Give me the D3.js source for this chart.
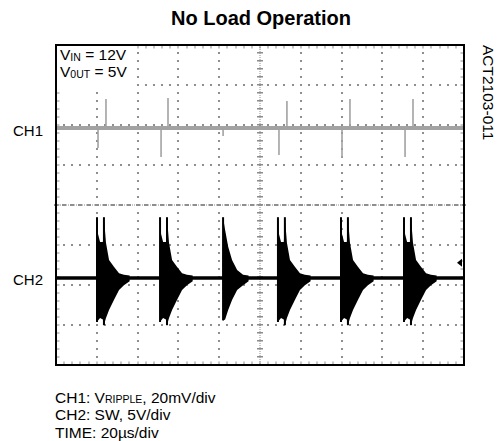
<!DOCTYPE html>
<html><head><meta charset="utf-8">
<script src="https://cdn.jsdelivr.net/npm/d3@7"></script>
<style>body{margin:0;background:#fff}svg{display:block}text{font-family:"Liberation Sans",Arial,Helvetica,sans-serif;fill:#000}</style>
</head><body><svg id="c" width="503" height="441"></svg>
<script>
// ---- data ----
const timeDomain = [0, 200];        // µs, 10 div x 20 µs/div
const divDomain = [-4, 4];          // vertical divisions
const ch1OffsetDiv = 1.925;         // CH1 trace position (div)
const ch1PerDiv = 20;               // mV/div
const ch2OffsetDiv = -1.825;        // CH2 trace position (div)
const ch2PerDiv = 5;                // V/div
const ch1SpikeTimes  = [20.6, 24.5, 51.5, 54.9, 81.9, 109.3, 113.2, 140.2, 144.1, 171.1, 175.0];
const ch1SpikeValues = [-10, 14.5, -14.5, 15, -4, -13.5, 13.5, -15, 14.5, -14.5, 14.5]; // mV
const ch2BurstTimes  = [20.1, 51.0, 81.9, 108.8, 139.7, 170.6]; // µs
const ch2BurstKinds  = ["double", "double", "single", "double", "double", "double"];
const doubleDt     = [-0.2, 0, 0.5, 1.5, 2.9, 3.4, 4.4, 5.9, 8.3, 10.8, 13.2, 16];
const doubleTop    = [0.3, 7.6, 5.5, 4.5, 4.5, 7.6, 4.4, 2.25, 1.4, 0.6, 0.4, 0.3];
const doubleBottom = [-0.3, -5.5, -5.3, -5.0, -5.2, -5.9, -5.0, -4.0, -2.75, -1.5, -0.9, -0.4];
const doubleSpikeDt = [0, 3.4];
const singleDt     = [-0.2, 0, 1.0, 2.5, 4.4, 6.9, 9.8, 12.5];
const singleTop    = [0.3, 7.6, 6.0, 3.9, 2.25, 1.0, 0.4, 0.3];
const singleBottom = [-0.3, -5.3, -5.2, -4.0, -2.75, -1.5, -0.9, -0.4];
const singleSpikeDt = [0];
const ch2MarkerLevel = 1.9; // V
const scopeNotes = ["CH1: V", "RIPPLE", ", 20mV/div"];

// ---- layout ----
const svg = d3.select("#c");
const L = 56, R = 464, T = 45, B = 365;
const x = d3.scaleLinear().domain(timeDomain).range([L, R]);
const y = d3.scaleLinear().domain(divDomain).range([B, T]);
const y1 = v => y(ch1OffsetDiv + v / ch1PerDiv);
const y2 = v => y(ch2OffsetDiv + v / ch2PerDiv);
const grid = svg.append("g");
const gcol = "#8e8e8e";
const xDivs = d3.range(0, 11).map(i => timeDomain[0] + i * 20);
const yDivs = d3.range(-4, 5);
const xMinor = d3.range(0, 51).map(i => i * 4);
const yMinor = d3.range(0, 41).map(i => -4 + i * 0.2);
const dot = (px, py) => grid.append("rect").attr("x", Math.round(px) - 1).attr("y", Math.round(py) - 1).attr("width", 2).attr("height", 2).attr("fill", gcol);
// dotted graticule
xDivs.slice(1, -1).filter(t => t !== 100).forEach(t => yMinor.forEach(v => dot(x(t), y(v))));
yDivs.slice(1, -1).filter(v => v !== 0).forEach(v => xMinor.forEach(t => dot(x(t), y(v))));
// center axes with ticks
const cx = Math.round(x(100)), cy = Math.round(y(0));
grid.append("line").attr("x1", cx).attr("x2", cx).attr("y1", T).attr("y2", B).attr("stroke", gcol).attr("stroke-width", 1).attr("stroke-dasharray", "1,1");
grid.append("line").attr("x1", L).attr("x2", R).attr("y1", cy).attr("y2", cy).attr("stroke", gcol).attr("stroke-width", 1).attr("stroke-dasharray", "1,1");
yMinor.forEach(v => grid.append("rect").attr("x", cx - 3).attr("y", Math.round(y(v)) - 1).attr("width", 6).attr("height", 1.5).attr("fill", gcol));
xMinor.forEach(t => grid.append("rect").attr("x", Math.round(x(t)) - 2).attr("y", cy - 1).attr("width", 4).attr("height", 2).attr("fill", gcol));
// border ticks
xMinor.forEach(t => {
  const px = Math.round(x(t));
  grid.append("rect").attr("x", px - 0.5).attr("y", T).attr("width", 1).attr("height", 3.5).attr("fill", gcol);
  grid.append("rect").attr("x", px - 0.5).attr("y", B - 3.5).attr("width", 1).attr("height", 3.5).attr("fill", gcol);
});
yMinor.forEach(v => {
  const py = Math.round(y(v));
  grid.append("rect").attr("x", L).attr("y", py - 0.5).attr("width", 3.5).attr("height", 1).attr("fill", gcol);
  grid.append("rect").attr("x", R - 3.5).attr("y", py - 0.5).attr("width", 3.5).attr("height", 1).attr("fill", gcol);
});

// ---- CH1 ----
const ch1col = "#a2a2a2";
const g1 = svg.append("g");
g1.append("line").attr("x1", x(0)).attr("x2", x(200)).attr("y1", y1(0)).attr("y2", y1(0)).attr("stroke", ch1col).attr("stroke-width", 4);
ch1SpikeTimes.forEach((t, i) => g1.append("line").attr("x1", x(t)).attr("x2", x(t)).attr("y1", y1(0)).attr("y2", y1(ch1SpikeValues[i])).attr("stroke", ch1col).attr("stroke-width", 1.6));

// ---- CH2 ----
const g2 = svg.append("g");
g2.append("line").attr("x1", x(0)).attr("x2", x(200)).attr("y1", y2(0)).attr("y2", y2(0)).attr("stroke", "#000").attr("stroke-width", 3.5);
const area = d3.area().x(d => x(d.t)).y0(d => y2(d.lo)).y1(d => y2(d.hi));
ch2BurstTimes.forEach((t0, i) => {
  const dbl = ch2BurstKinds[i] === "double";
  const dt = dbl ? doubleDt : singleDt, hi = dbl ? doubleTop : singleTop, lo = dbl ? doubleBottom : singleBottom;
  const pts = dt.map((d, j) => ({ t: t0 + d, hi: hi[j], lo: lo[j] }));
  g2.append("path").attr("d", area(pts)).attr("fill", "#000");
  (dbl ? doubleSpikeDt : singleSpikeDt).forEach(sd => {
    const j = dt.indexOf(sd);
    g2.append("line").attr("x1", x(t0 + sd)).attr("x2", x(t0 + sd)).attr("y1", y2(hi[j])).attr("y2", y2(lo[j])).attr("stroke", "#000").attr("stroke-width", 2);
  });
});
// channel marker
const my = y2(ch2MarkerLevel);
svg.append("path").attr("d", `M${R - 7},${my} L${R - 2},${my - 4} L${R - 2},${my + 4} Z`).attr("fill", "#000");

// white label box behind the input/output annotation
svg.append("rect").attr("x", L).attr("y", T).attr("width", 78).attr("height", 42).attr("fill", "#fff");

// frame
svg.append("rect").attr("x", L).attr("y", T).attr("width", R - L).attr("height", B - T).attr("fill", "none").attr("stroke", "#000").attr("stroke-width", 2);

// ---- text ----
svg.append("text").attr("x", 261).attr("y", 25).attr("text-anchor", "middle").attr("font-size", 20).attr("font-weight", "bold").text("No Load Operation");
svg.append("text").attr("x", 13).attr("y", y1(0) + 7.5).attr("font-size", 15).text("CH1");
svg.append("text").attr("x", 13).attr("y", y2(0) + 7).attr("font-size", 15).text("CH2");
const t1 = svg.append("text").attr("x", 60).attr("y", 60).attr("font-size", 15.5);
t1.append("tspan").text("V"); t1.append("tspan").attr("font-size", 10.5).attr("dy", 1).text("IN"); t1.append("tspan").attr("dy", -1).text(" = 12V");
const t2 = svg.append("text").attr("x", 60).attr("y", 77).attr("font-size", 15.5);
t2.append("tspan").text("V"); t2.append("tspan").attr("font-size", 10.5).attr("dy", 1).text("0UT"); t2.append("tspan").attr("dy", -1).text(" = 5V");
svg.append("text").attr("transform", "translate(483,45) rotate(90)").attr("font-size", 15.5).text("ACT2103-011");
const n1 = svg.append("text").attr("x", 55).attr("y", 402.5).attr("font-size", 15.5);
n1.append("tspan").text(scopeNotes[0]); n1.append("tspan").attr("font-size", 10.5).text(scopeNotes[1]); n1.append("tspan").text(scopeNotes[2]);
svg.append("text").attr("x", 55).attr("y", 420).attr("font-size", 15.5).text("CH2: SW, 5V/div");
svg.append("text").attr("x", 55).attr("y", 437.5).attr("font-size", 15.5).text("TIME: 20µs/div");
</script></body></html>
